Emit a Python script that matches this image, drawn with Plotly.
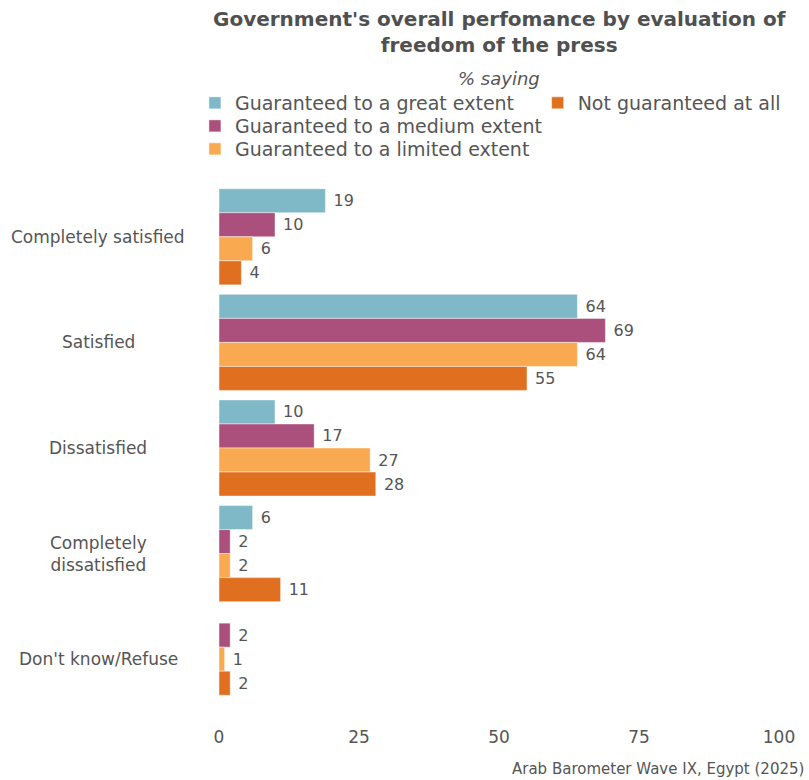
import plotly.graph_objects as go

# Survey categories and shares (%) per press-freedom evaluation
categories = ["Completely satisfied", "Satisfied", "Dissatisfied",
              "Completely dissatisfied", "Don't know/Refuse"]
category_labels = ["Completely satisfied", "Satisfied", "Dissatisfied",
                   "Completely<br>dissatisfied", "Don't know/Refuse"]

great_extent = [19, 64, 10, 6, None]
medium_extent = [10, 69, 17, 2, 2]
limited_extent = [6, 64, 27, 2, 1]
not_at_all = [4, 55, 28, 11, 2]

series_names = ["Guaranteed to a great extent", "Guaranteed to a medium extent",
                "Guaranteed to a limited extent", "Not guaranteed at all"]
series_values = [great_extent, medium_extent, limited_extent, not_at_all]
colors = ["#7fb9c8", "#ab4f7c", "#f9a94f", "#e07020"]

x_ticks = [0, 25, 50, 75, 100]

FONT = "DejaVu Sans"
TEXT = "#555555"

# Legend entries: first column holds three entries, second column one
legend_ids = ["legend", "legend2", "legend3", "legend4"]
legend_pos = [(-0.043, 1.1534), (-0.043, 1.1098), (-0.043, 1.0663), (0.569, 1.1534)]

# Bars of each category are packed and centred, skipping missing series
GROUP = 0.91
n_series = len(series_values)
bar_w = GROUP / n_series

fig = go.Figure()
for s, (name, vals, col, lg) in enumerate(zip(series_names, series_values, colors, legend_ids)):
    offsets = []
    for i in range(len(categories)):
        present = [j for j in range(n_series) if series_values[j][i] is not None]
        k = present.index(s) if s in present else 0
        offsets.append(-len(present) * bar_w / 2 + k * bar_w)
    fig.add_trace(go.Bar(
        y=categories, x=vals, name=name, orientation="h",
        offset=offsets, width=bar_w,
        marker=dict(color=col, line=dict(color="rgba(255,255,255,0.45)", width=1)),
        text=[("" if v is None else str(v)) for v in vals],
        texttemplate=" %{text}",
        textposition="outside", cliponaxis=False,
        textfont=dict(family=FONT, size=16, color=TEXT),
        legend=lg, showlegend=True,
    ))

# Centred category labels beside the bars
for cat, lab in zip(categories, category_labels):
    fig.add_annotation(x=-0.216, xref="paper", y=cat, yref="y", text=lab,
                       showarrow=False, xanchor="center", align="center",
                       font=dict(family=FONT, size=17, color=TEXT))

fig.add_annotation(x=0.5, xref="paper", y=1.288, yref="paper", yanchor="middle",
                   text="<b>Government's overall perfomance by evaluation of<br>freedom of the press</b>",
                   showarrow=False, font=dict(family=FONT, size=20, color="#505050"))
fig.add_annotation(x=0.5, xref="paper", y=1.2, yref="paper", yanchor="middle",
                   text="<i>% saying</i>", showarrow=False,
                   font=dict(family=FONT, size=18, color=TEXT))
fig.add_annotation(x=1.048, xref="paper", xanchor="right", y=-0.128, yref="paper",
                   text="Arab Barometer Wave IX, Egypt (2025)", showarrow=False,
                   font=dict(family=FONT, size=15, color=TEXT))

legends = {}
for lg, (lx, ly) in zip(legend_ids, legend_pos):
    legends[lg] = dict(orientation="v", x=lx, xanchor="left", y=ly, yanchor="middle",
                       font=dict(family=FONT, size=19, color=TEXT),
                       itemwidth=30, bgcolor="rgba(0,0,0,0)", visible=True)

fig.update_layout(
    width=809, height=780,
    margin=dict(l=219, r=30, t=184, b=68),
    paper_bgcolor="white", plot_bgcolor="white",
    barmode="overlay", showlegend=True,
    font=dict(family=FONT, color=TEXT),
    xaxis=dict(range=[0, 100], tickvals=x_ticks, showgrid=False, zeroline=False,
               showline=False, ticks="", ticklabelstandoff=13,
               tickfont=dict(family=FONT, size=17, color=TEXT)),
    yaxis=dict(autorange="reversed", showticklabels=False, showgrid=False,
               zeroline=False, showline=False, ticks=""),
    **legends,
)

fig.write_html("out.html")
